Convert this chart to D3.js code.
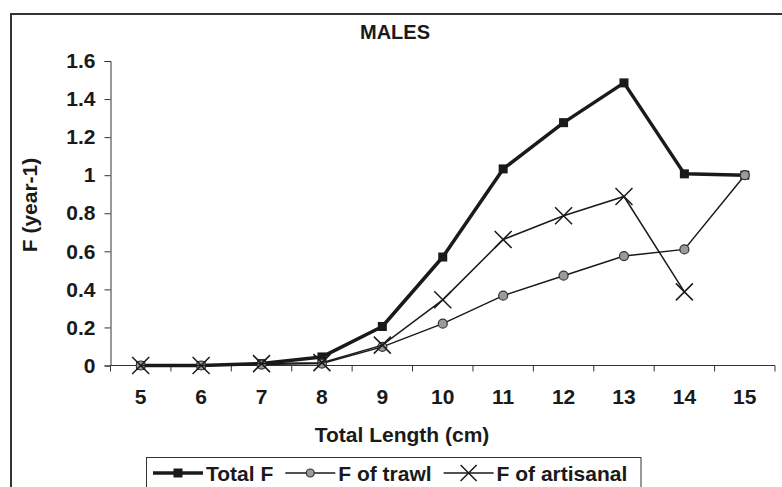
<!DOCTYPE html>
<html>
<head>
<meta charset="utf-8">
<script src="https://cdn.jsdelivr.net/npm/d3@7/dist/d3.min.js"></script>
<style>
  html, body { margin: 0; padding: 0; background: #fff; }
  svg { display: block; }
  text { font-family: "Liberation Sans", Arial, sans-serif; font-weight: bold; fill: #1a1a1a; }
</style>
</head>
<body>
<script>
const categories = [5, 6, 7, 8, 9, 10, 11, 12, 13, 14, 15];
const totalF =      [0, 0, 0.01, 0.045, 0.205, 0.57, 1.033, 1.276, 1.485, 1.007, 1.0];
const trawlF =      [0, 0, 0.005, 0.01, 0.098, 0.22, 0.367, 0.472, 0.575, 0.61, 1.0];
const artisanalF =  [0, 0, 0.01, 0.015, 0.107, 0.345, 0.662, 0.787, 0.888, 0.387, null];
const yTicks = [0, 0.2, 0.4, 0.6, 0.8, 1, 1.2, 1.4, 1.6];
const chartTitle = "MALES";
const xTitle = "Total Length (cm)";
const yTitle = "F (year-1)";
const seriesNames = ["Total F", "F of trawl", "F of artisanal"];

const W = 782, H = 487;
const FS = 21;
const svg = d3.select("body").append("svg").attr("width", W).attr("height", H);

// outer frame
svg.append("rect").attr("x", 11).attr("y", 14).attr("width", 800).attr("height", 500)
  .attr("fill", "none").attr("stroke", "#333").attr("stroke-width", 2);

const x = d3.scaleBand().domain(categories).range([110.5, 775]).padding(0);
const y = d3.scaleLinear().domain([0, 1.6]).range([365.5, 61]);
const cx = d => x(d) + x.bandwidth() / 2;

// y axis
const yAxis = svg.append("g").attr("transform", "translate(110.5,0)")
  .call(d3.axisLeft(y).tickValues(yTicks).tickSize(6).tickPadding(9).tickFormat(d => String(d)));
yAxis.select(".domain").attr("stroke", "#333");
yAxis.selectAll(".tick line").attr("stroke", "#333");
yAxis.selectAll("text").attr("font-size", FS).attr("font-family", null).attr("fill", "#1a1a1a");

// x axis (ticks between categories)
const xAxisG = svg.append("g").attr("transform", "translate(0,365.5)");
xAxisG.append("line").attr("x1", x.range()[0]).attr("x2", x.range()[1])
  .attr("stroke", "#333");
const bounds = categories.map(c => x(c)).concat([x.range()[1]]);
xAxisG.selectAll("line.tk").data(bounds).join("line").attr("class", "tk")
  .attr("x1", d => d).attr("x2", d => d).attr("y1", 0).attr("y2", 6).attr("stroke", "#333");
xAxisG.selectAll("text").data(categories).join("text")
  .attr("x", d => cx(d)).attr("y", 38).attr("text-anchor", "middle")
  .attr("font-size", FS).text(d => d);

// titles
svg.append("text").attr("x", 395).attr("y", 39).attr("text-anchor", "middle")
  .attr("font-size", 20).text(chartTitle);
svg.append("text").attr("x", 402).attr("y", 442).attr("text-anchor", "middle")
  .attr("font-size", FS).text(xTitle);
svg.append("text").attr("transform", "translate(37,205) rotate(-90)")
  .attr("text-anchor", "middle").attr("font-size", FS).text(yTitle);

const line = d3.line().defined(d => d.v != null).x(d => cx(d.c)).y(d => y(d.v));
const toPts = arr => categories.map((c, i) => ({ c, v: arr[i] }));

const lineColor = "#1a1a1a";
function drawSquare(g, px, py, s) {
  g.append("rect").attr("x", px - s / 2).attr("y", py - s / 2).attr("width", s).attr("height", s)
    .attr("fill", lineColor);
}
function drawCircle(g, px, py, r) {
  g.append("circle").attr("cx", px).attr("cy", py).attr("r", r)
    .attr("fill", "#9a9a9a").attr("stroke", "#333").attr("stroke-width", 1.2);
}
function drawCross(g, px, py, h) {
  g.append("path").attr("d", `M${px - h},${py - h}L${px + h},${py + h}M${px - h},${py + h}L${px + h},${py - h}`)
    .attr("stroke", lineColor).attr("stroke-width", 1.5).attr("fill", "none");
}

// Total F
const gT = svg.append("g");
gT.append("path").datum(toPts(totalF)).attr("d", line).attr("fill", "none")
  .attr("stroke", lineColor).attr("stroke-width", 3.5).attr("stroke-linejoin", "round");
toPts(totalF).filter(d => d.v != null).forEach(d => drawSquare(gT, cx(d.c), y(d.v), 9));

// trawl
const gR = svg.append("g");
gR.append("path").datum(toPts(trawlF)).attr("d", line).attr("fill", "none")
  .attr("stroke", lineColor).attr("stroke-width", 1.5);
toPts(trawlF).filter(d => d.v != null).forEach(d => drawCircle(gR, cx(d.c), y(d.v), 4.5));

// artisanal
const gA = svg.append("g");
gA.append("path").datum(toPts(artisanalF)).attr("d", line).attr("fill", "none")
  .attr("stroke", lineColor).attr("stroke-width", 1.5);
toPts(artisanalF).filter(d => d.v != null).forEach(d => drawCross(gA, cx(d.c), y(d.v), 8.5));

// legend
const leg = svg.append("g");
leg.append("rect").attr("x", 146.5).attr("y", 457.5).attr("width", 494.5).attr("height", 40)
  .attr("fill", "#fff").attr("stroke", "#333").attr("stroke-width", 1);
const ly = 473;
let lx = 153;
const sampleW = 50;
seriesNames.forEach((name, i) => {
  const g = leg.append("g");
  g.append("line").attr("x1", lx).attr("x2", lx + sampleW).attr("y1", ly).attr("y2", ly)
    .attr("stroke", lineColor).attr("stroke-width", i === 0 ? 3.5 : 1.5);
  const mx = lx + sampleW / 2;
  if (i === 0) drawSquare(g, mx, ly, 9);
  else if (i === 1) drawCircle(g, mx, ly, 4);
  else drawCross(g, mx, ly, 8);
  const t = g.append("text").attr("x", lx + sampleW + 3).attr("y", ly + 7.5).attr("font-size", FS).text(name);
  lx = lx + sampleW + 3 + t.node().getComputedTextLength() + 12;
});
</script>
</body>
</html>
